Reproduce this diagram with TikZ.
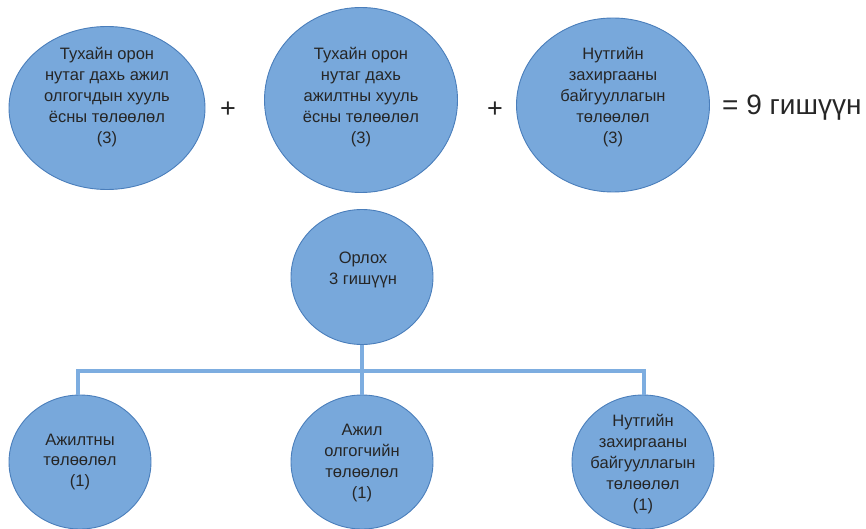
\documentclass[tikz,border=0pt]{standalone}
\usepackage{fontspec}
\setmainfont{Liberation Sans}
\usetikzlibrary{shapes.geometric}
\definecolor{bubfill}{HTML}{78A8DB}
\definecolor{bubline}{HTML}{4A7EBB}
\definecolor{linkc}{HTML}{7DADE0}
\definecolor{txtc}{HTML}{262626}
\tikzset{
  bubble/.style={ellipse, draw=bubline, fill=bubfill, line width=0.9pt, inner sep=0pt, outer sep=0pt},
  txt/.style={align=center, text=txtc, font=\fontsize{16.5}{20.8}\selectfont, inner sep=0pt},
  sym/.style={text=txtc, font=\fontsize{27}{30}\selectfont, inner sep=0pt},
  link/.style={draw=linkc, line width=4pt}
}
\begin{document}
\begin{tikzpicture}[x=1pt,y=-1pt]
\useasboundingbox (0,0) rectangle (866,529);
% top row
\node[bubble, minimum width=196pt, minimum height=163pt] (t1) at (107,108) {};
\node[txt] (t1t) at (107,97) {Тухайн орон\\нутаг дахь ажил\\олгогчдын хууль\\ёсны төлөөлөл\\(3)};
\node[bubble, minimum width=193pt, minimum height=185pt] (t2) at (361,100) {};
\node[txt] (t2t) at (361,97) {Тухайн орон\\нутаг дахь\\ажилтны хууль\\ёсны төлөөлөл\\(3)};
\node[bubble, minimum width=193pt, minimum height=174pt] (t3) at (613,105) {};
\node[txt] (t3t) at (613,97) {Нутгийн\\захиргааны\\байгууллагын\\төлөөлөл\\(3)};
\node[sym] (p1) at (228,110) {+};
\node[sym] (p2) at (495,110) {+};
\node[anchor=west, text=txtc, font=\fontsize{28}{32}\selectfont, inner sep=0pt] (eq) at (722,108) {= 9 гишүүн};
% chair
\node[bubble, minimum width=142pt, minimum height=135pt] (ch) at (362,277) {};
\node[txt] (cht) at (363,270) {Орлох\\3 гишүүн};
% children
\node[bubble, minimum width=142pt, minimum height=134pt] (c1) at (80,462) {};
\node[txt] (c1t) at (80,462) {Ажилтны\\төлөөлөл\\(1)};
\node[bubble, minimum width=142pt, minimum height=134pt] (c2) at (362,462) {};
\node[txt] (c2t) at (362,463) {Ажил\\олгогчийн\\төлөөлөл\\(1)};
\node[bubble, minimum width=142pt, minimum height=134pt] (c3) at (643,462) {};
\node[txt] (c3t) at (643,464) {Нутгийн\\захиргааны\\байгууллагын\\төлөөлөл\\(1)};
% connectors
\coordinate (hl) at (78,371);
\coordinate (hr) at (644,371);
\draw[link] (c1.north -| hl) -- (hl) -- (hr) -- (c3.north -| hr);
\draw[link] (ch.south) -- (c2.north);
\end{tikzpicture}
\end{document}
